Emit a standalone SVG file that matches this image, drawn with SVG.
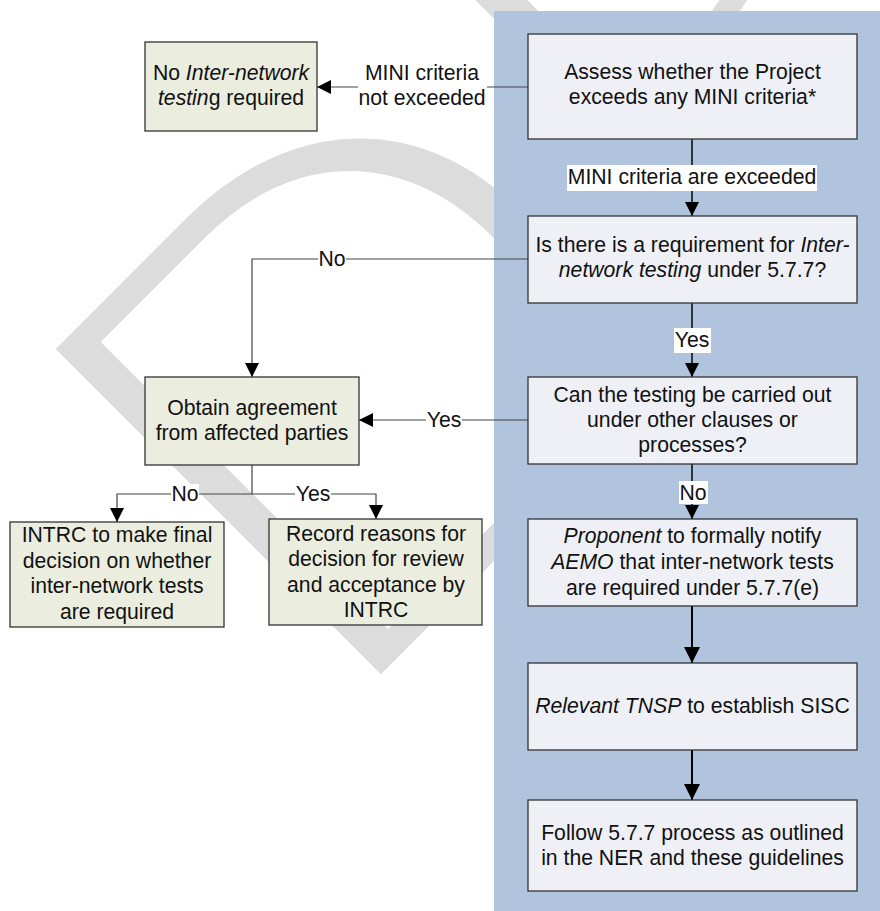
<svg xmlns="http://www.w3.org/2000/svg" width="880" height="911" viewBox="0 0 880 911">
<style>
.t{font-family:"Liberation Sans",Arial,sans-serif;font-size:21.2px;fill:#111;text-anchor:middle}
.i{font-style:italic}
.wm{font-family:Lato,"Open Sans","Liberation Sans",sans-serif;font-weight:300;font-size:650px;fill:#dcdcdc}
.g{fill:#ebeedf;stroke:#333;stroke-width:1.3}
.b{fill:#eef0f5;stroke:#333;stroke-width:1.3}
.lbl{fill:#fff}
.c{fill:none;stroke:#444;stroke-width:1.2}
.cp{fill:none;stroke:#111;stroke-width:1.6}
.ct{fill:none;stroke:#000;stroke-width:2}
</style>
<defs>
<marker id="ah" markerUnits="userSpaceOnUse" markerWidth="14" markerHeight="14" viewBox="0 0 14 14" refX="14" refY="7" orient="auto"><path d="M0,0 L14,7 L0,14 z" fill="#000"/></marker>
<marker id="ahL" markerUnits="userSpaceOnUse" markerWidth="16" markerHeight="16" viewBox="0 0 16 16" refX="16" refY="8" orient="auto"><path d="M0,0 L16,8 L0,16 z" fill="#000"/></marker>
</defs>
<rect width="880" height="911" fill="#fff"/>
<text class="wm" transform="translate(328,727) rotate(-45) scale(1.1,1)">DRAFT</text>
<rect id="panel" x="494" y="11" width="386" height="900" fill="#b0c4de"/>

<g id="connectors">
<path class="c" d="M528,87 H317" marker-end="url(#ah)"/>
<path class="cp" d="M692,139 V216" marker-end="url(#ah)"/>
<path class="c" d="M528,259 H252 V377" marker-end="url(#ah)"/>
<path class="cp" d="M692,303 V377" marker-end="url(#ah)"/>
<path class="c" d="M528,420 H359" marker-end="url(#ah)"/>
<path class="c" d="M252,465 V494 H117 V522" marker-end="url(#ah)"/>
<path class="c" d="M252,494 H376 V519" marker-end="url(#ah)"/>
<path class="cp" d="M692,464 V519" marker-end="url(#ah)"/>
<path class="ct" d="M692,606 V663" marker-end="url(#ahL)"/>
<path class="ct" d="M692,750 V800" marker-end="url(#ahL)"/>
</g>

<g id="labels">
<rect class="lbl" x="358" y="62" width="129" height="51"/>
<text class="t" x="422" y="80">MINI criteria</text>
<text class="t" x="422" y="105">not exceeded</text>
<rect class="lbl" x="567" y="165" width="250" height="26"/>
<text class="t" x="692" y="184">MINI criteria are exceeded</text>
<rect class="lbl" x="318" y="249" width="28" height="20"/>
<text class="t" x="332" y="266">No</text>
<rect class="lbl" x="674" y="328" width="37" height="25"/>
<text class="t" x="692" y="347">Yes</text>
<rect class="lbl" x="426" y="410" width="36" height="20"/>
<text class="t" x="444" y="427">Yes</text>
<rect class="lbl" x="171" y="484" width="28" height="20"/>
<text class="t" x="185" y="501">No</text>
<rect class="lbl" x="295" y="484" width="36" height="20"/>
<text class="t" x="313" y="501">Yes</text>
<rect class="lbl" x="679" y="481" width="29" height="23"/>
<text class="t" x="693" y="500">No</text>
</g>

<g id="n-no-testing">
<rect class="g" x="145" y="42" width="172" height="89"/>
<text class="t" x="231" y="80">No <tspan class="i">Inter-network</tspan></text>
<text class="t" x="231" y="105"><tspan class="i">testin</tspan>g required</text>
</g>

<g id="n-assess">
<rect class="b" x="528" y="34" width="329" height="105"/>
<text class="t" x="692.5" y="79">Assess whether the Project</text>
<text class="t" x="692.5" y="104">exceeds any MINI criteria*</text>
</g>

<g id="n-requirement">
<rect class="b" x="528" y="216" width="329" height="87"/>
<text class="t" x="692.5" y="252">Is there is a requirement for <tspan class="i">Inter-</tspan></text>
<text class="t" x="692.5" y="277"><tspan class="i">network testing</tspan> under 5.7.7?</text>
</g>

<g id="n-other-clauses">
<rect class="b" x="528" y="377" width="329" height="87"/>
<text class="t" x="692.5" y="402">Can the testing be carried out</text>
<text class="t" x="692.5" y="427">under other clauses or</text>
<text class="t" x="692.5" y="452">processes?</text>
</g>

<g id="n-agreement">
<rect class="g" x="145" y="377" width="214" height="88"/>
<text class="t" x="252" y="415">Obtain agreement</text>
<text class="t" x="252" y="440">from affected parties</text>
</g>

<g id="n-intrc">
<rect class="g" x="10" y="522" width="214" height="105"/>
<text class="t" x="117" y="542">INTRC to make final</text>
<text class="t" x="117" y="567.5">decision on whether</text>
<text class="t" x="117" y="593">inter-network tests</text>
<text class="t" x="117" y="618.5">are required</text>
</g>

<g id="n-record">
<rect class="g" x="269" y="519" width="213" height="106"/>
<text class="t" x="376" y="541">Record reasons for</text>
<text class="t" x="376" y="566">decision for review</text>
<text class="t" x="376" y="592">and acceptance by</text>
<text class="t" x="376" y="617">INTRC</text>
</g>

<g id="n-proponent">
<rect class="b" x="528" y="519" width="329" height="87"/>
<text class="t" x="692.5" y="543"><tspan class="i">Proponent</tspan> to formally notify</text>
<text class="t" x="692.5" y="569"><tspan class="i">AEMO</tspan> that inter-network tests</text>
<text class="t" x="692.5" y="595">are required under 5.7.7(e)</text>
</g>

<g id="n-tnsp">
<rect class="b" x="528" y="663" width="329" height="87"/>
<text class="t" x="692.5" y="713"><tspan class="i">Relevant TNSP</tspan> to establish SISC</text>
</g>

<g id="n-follow">
<rect class="b" x="528" y="800" width="329" height="91"/>
<text class="t" x="692.5" y="840">Follow 5.7.7 process as outlined</text>
<text class="t" x="692.5" y="865">in the NER and these guidelines</text>
</g>
</svg>
